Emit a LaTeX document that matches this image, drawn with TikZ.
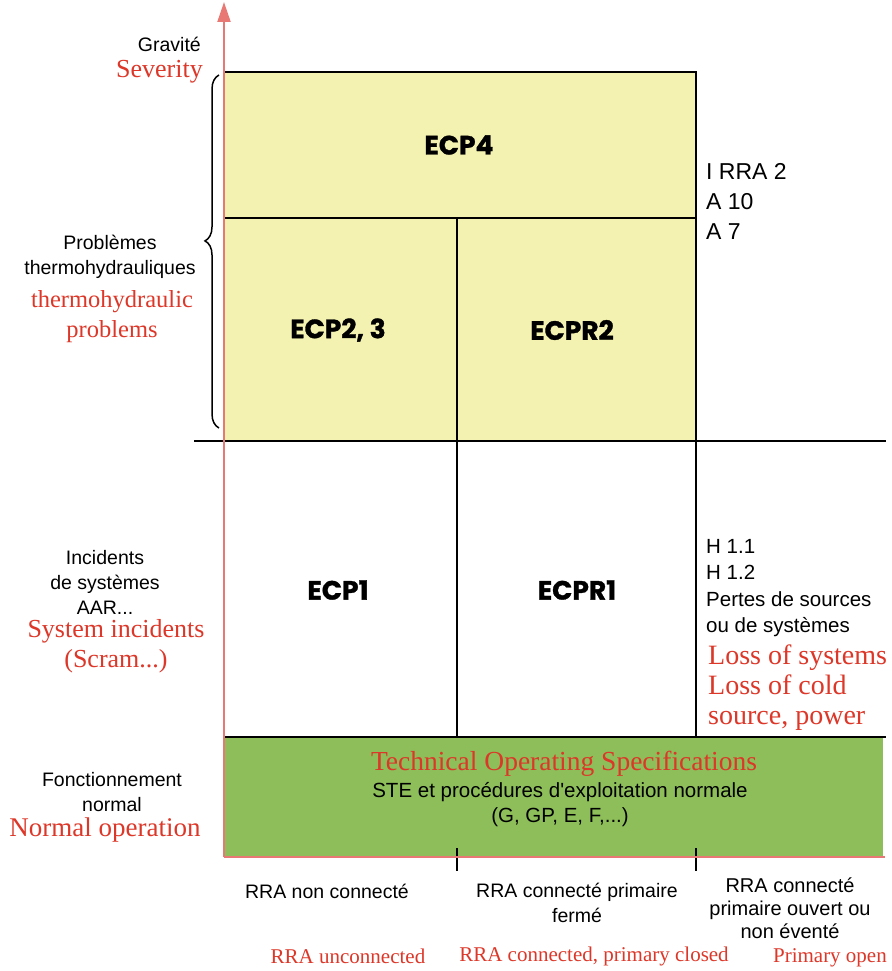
\documentclass[tikz,border=0pt]{standalone}
\usepackage{fontspec}
\setmainfont{Liberation Serif}
\newfontfamily\sansf{Liberation Sans}
\newfontfamily\ecpf{Poppins}[FakeBold=1.2]
\usepackage{tikz}
\usetikzlibrary{positioning,arrows.meta,decorations.pathreplacing}
\definecolor{redtxt}{RGB}{220,55,40}
\definecolor{axisred}{RGB}{232,120,115}
\definecolor{zoneyellow}{RGB}{243,242,176}
\definecolor{zonegreen}{RGB}{141,190,90}
\tikzset{
  frtxt/.style={font=\sansf\fontsize{19.5}{25}\selectfont,align=center,inner sep=0pt},
  entxt/.style={font=\fontsize{26}{30}\selectfont,text=redtxt,align=center,inner sep=0pt},
  zone/.style={font=\ecpf\bfseries\fontsize{26.5}{28}\selectfont,inner sep=0pt},
  gridline/.style={line width=2.5pt,line cap=rect}
}

\begin{document}
\begin{tikzpicture}[x=1pt,y=-1pt,>=Stealth]
\useasboundingbox (0,0) rectangle (891,971);
% zones
\fill[zoneyellow] (224,72) rectangle (696,441);
\fill[zonegreen] (224,737) rectangle (883,857);
\draw[gridline] (224,72) -- (696,72) -- (696,737);
\draw[gridline] (224,218) -- (696,218);
\draw[gridline] (457,218) -- (457,737);
\draw[gridline] (195,441) -- (885,441);
\draw[gridline] (224,737) -- (885,737);
\draw[gridline] (457,849) -- (457,870);
\draw[gridline] (696,849) -- (696,870);
% axes
\draw[axisred,line width=1.5pt] (224,857) -- (885,857);
\draw[axisred,line width=2pt,-{Triangle[length=20pt,width=13pt]}] (224,857) -- (224,2);
\draw[line width=1.5pt,decorate,decoration={brace,amplitude=14pt,aspect=0.53}] (219,428) -- (219,75);

\node[zone] (ecp4) at (459,145) {ECP4};
\node[zone] (ecp23) at (338,330) {ECP2, 3};
\node[zone] (ecpr2) at (572,330) {ECPR2};
\node[zone] (ecp1) at (338,590) {ECP1};
\node[zone] (ecpr1) at (577,590) {ECPR1};

% left labels
\node[frtxt,anchor=base east] (gravfr) at (201,52) {Gravité};
\node[entxt,anchor=base east] (graven) at (203,78) {Severity};
\node[frtxt] (probfr) at (110,257) {Problèmes\\thermohydrauliques};
\node[entxt,font=\fontsize{24.5}{30}\selectfont] (proben) at (112,317) {thermohydraulic\\problems};
\node[frtxt] (incfr) at (105,582) {Incidents\\de systèmes\\AAR...};
\node[entxt] (incen) at (116,646) {System incidents\\(Scram...)};
\node[frtxt] (foncfr) at (112,792) {Fonctionnement\\normal};
\node[entxt,font=\fontsize{27}{30}\selectfont] (foncen) at (105,830) {Normal operation};

% right labels
\node[frtxt,align=left,anchor=west,font=\sansf\fontsize{23}{30}\selectfont] (rrafr) at (706,201) {I RRA 2\\A 10\\A 7};
\node[frtxt,align=left,anchor=west,font=\sansf\fontsize{20.5}{26.5}\selectfont] (hfr) at (706,588) {H 1.1\\H 1.2\\Pertes de sources\\ou de systèmes};
\node[entxt,align=left,anchor=west,font=\fontsize{28}{30}\selectfont] (lossen) at (708,688) {Loss of systems\\Loss of cold\\source, power};

% normal operation box
\node[entxt,font=\fontsize{27.5}{30}\selectfont] (tosen) at (564,764) {Technical Operating Specifications};
\node[frtxt,font=\sansf\fontsize{20.5}{25}\selectfont] (stefr) at (560,805) {STE et procédures d'exploitation normale\\(G, GP, E, F,...)};

% bottom labels
\node[frtxt] (col1fr) at (327,891) {RRA non connecté};
\node[frtxt] (col2fr) at (577,903) {RRA connecté primaire\\fermé};
\node[frtxt,font=\sansf\fontsize{20}{23}\selectfont] (col3fr) at (790,908) {RRA connecté\\primaire ouvert ou\\non éventé};
\node[entxt,font=\fontsize{21}{26}\selectfont] (col1en) at (348,956) {RRA unconnected};
\node[entxt,font=\fontsize{21}{26}\selectfont] (col2en) at (594,956) {RRA connected, primary closed};
\node[entxt,font=\fontsize{21}{26}\selectfont,anchor=east] (col3en) at (887,958) {Primary open};
\end{tikzpicture}
\end{document}
